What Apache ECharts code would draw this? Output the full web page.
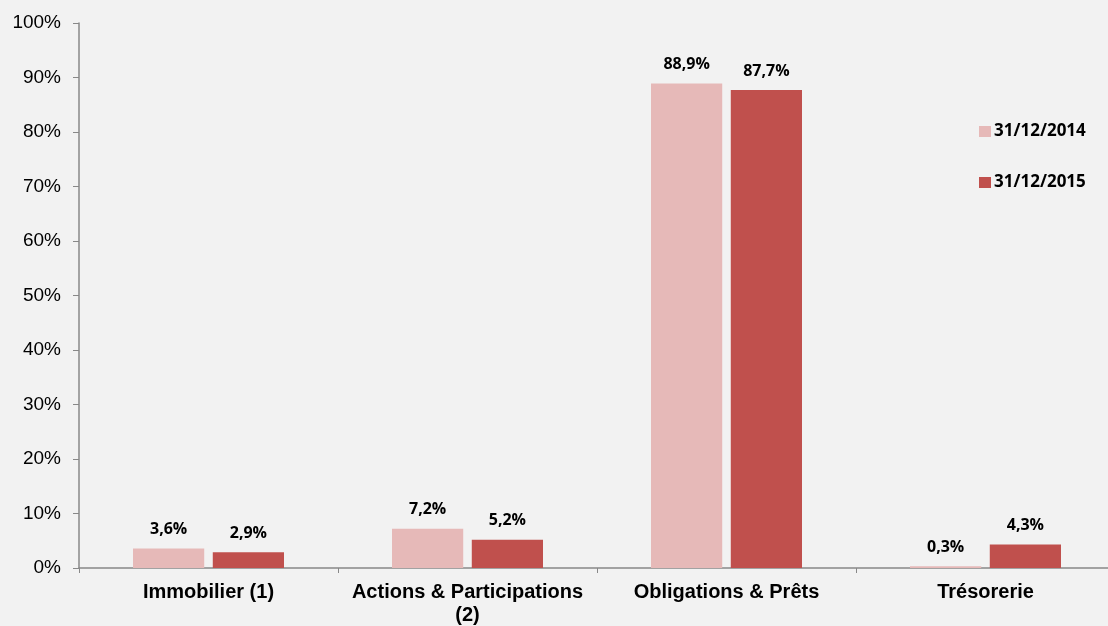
<!DOCTYPE html>
<html>
<head>
<meta charset="utf-8">
<script src="https://cdn.jsdelivr.net/npm/echarts@6/dist/echarts.min.js"></script>
<style>
  html, body { margin: 0; padding: 0; background: #f2f2f2; }
  #chart { width: 1108px; height: 626px; }
</style>
</head>
<body>
<div id="chart"></div>
<script>
// catégories et valeurs (en %)
const categories = ['Immobilier (1)', 'Actions & Participations\n(2)', 'Obligations & Prêts', 'Trésorerie']
const seriesNames = ['31/12/2014', '31/12/2015']
const values2014 = [3.6, 7.2, 88.9, 0.3]
const values2015 = [2.9, 5.2, 87.7, 4.3]
const colors = ['#e6b9b8', '#c0504d']

const fmt = (v) => v.toFixed(1).replace('.', ',') + '%'

const labelStyle = {
  show: true,
  position: 'top',
  distance: 11,
  fontFamily: 'Open Sans',
  fontWeight: 'bold',
  fontSize: 16,
  color: '#000',
  formatter: (p) => fmt(p.value)
}

const option = {
  backgroundColor: '#f2f2f2',
  animation: false,
  grid: { left: 79, width: 1036, top: 23, bottom: 58, outerBoundsMode: 'none' },
  legend: {
    orient: 'vertical',
    left: 974,
    top: 118,
    itemWidth: 12,
    itemHeight: 11,
    itemGap: 34,
    icon: 'rect',
    textStyle: { fontFamily: 'Open Sans', fontWeight: 'bold', fontSize: 17, color: '#000', padding: [0, 0, 0, -2] },
    data: seriesNames
  },
  xAxis: {
    type: 'category',
    data: categories,
    axisLine: { lineStyle: { color: '#888', width: 1.5 } },
    axisTick: { show: true, length: 5, lineStyle: { color: '#888' } },
    axisLabel: {
      interval: 0,
      fontFamily: 'Liberation Sans',
      fontWeight: 'bold',
      fontSize: 20,
      color: '#000',
      margin: 13,
      lineHeight: 23
    }
  },
  yAxis: {
    type: 'value',
    min: 0,
    max: 100,
    interval: 10,
    splitLine: { show: false },
    axisLine: { show: true, lineStyle: { color: '#888', width: 1.5 } },
    axisTick: { show: true, length: 6, lineStyle: { color: '#888' } },
    axisLabel: {
      fontFamily: 'Liberation Sans',
      fontSize: 19,
      color: '#000',
      margin: 18,
      formatter: '{value}%'
    }
  },
  series: [
    {
      name: seriesNames[0],
      type: 'bar',
      data: values2014,
      barWidth: '27.5%',
      barGap: '12%',
      itemStyle: { color: colors[0] },
      label: labelStyle
    },
    {
      name: seriesNames[1],
      type: 'bar',
      data: values2015,
      barWidth: '27.5%',
      itemStyle: { color: colors[1] },
      label: labelStyle
    }
  ]
}

const myChart = echarts.init(document.getElementById('chart'))
myChart.setOption(option)
</script>
</body>
</html>
